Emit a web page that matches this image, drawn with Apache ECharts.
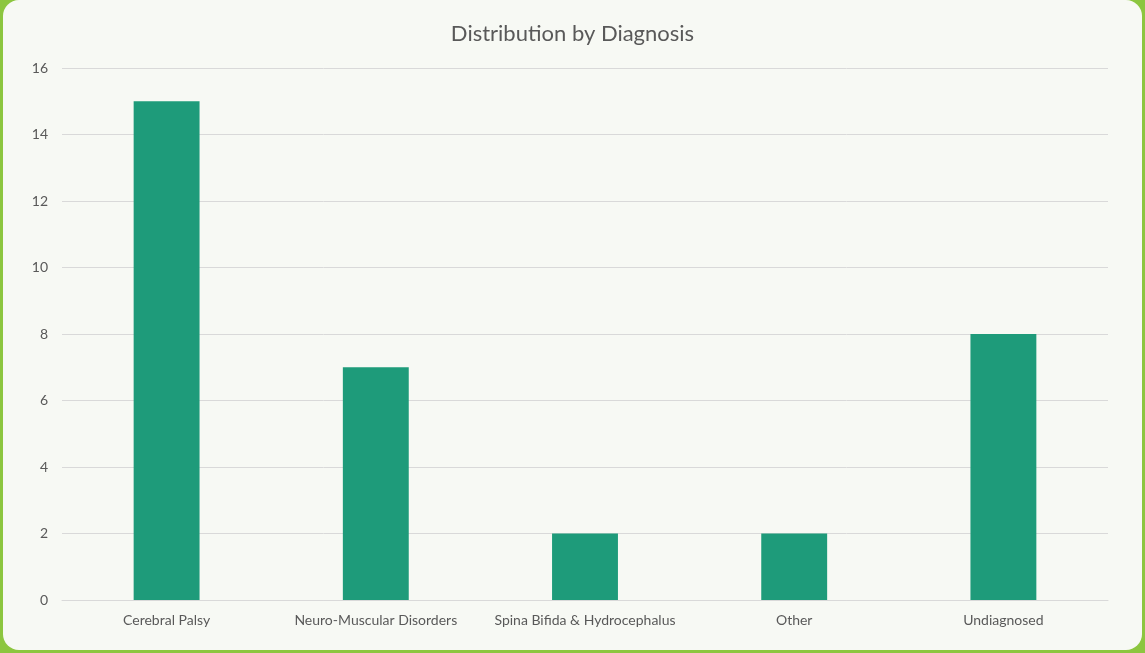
<!DOCTYPE html>
<html><head><meta charset="utf-8">
<script src="https://cdn.jsdelivr.net/npm/echarts@6/dist/echarts.min.js"></script>
<style>
html,body{margin:0;padding:0;width:1145px;height:653px;background:#8cc63f;overflow:hidden;}
#wrap{position:absolute;left:3px;top:0;width:1139px;height:650px;background:#f7f9f4;border-radius:16px;}
#chart{position:absolute;left:-3px;top:0;width:1145px;height:650px;}
</style></head>
<body><div id="wrap"><div id="chart"></div></div>
<script>
const categories = ['Cerebral Palsy','Neuro-Muscular Disorders','Spina Bifida & Hydrocephalus','Other','Undiagnosed'];
const counts = [15, 7, 2, 2, 8];
const yTicks = {min:0, max:16, interval:2};

const chart = echarts.init(document.getElementById('chart'), null, {renderer:'canvas'});
chart.setOption({
  backgroundColor:'transparent',
  title:{text:'Distribution by Diagnosis', left:'center', top:18,
    textStyle:{fontFamily:'Lato', fontSize:22, fontWeight:'normal', color:'#595959'}},
  grid:{left:62, right:37, top:68, bottom:50, containLabel:false},
  xAxis:{type:'category', data:categories,
    axisLine:{lineStyle:{color:'#d9d9d9'}}, axisTick:{show:false},
    axisLabel:{fontFamily:'Lato', fontSize:14, color:'#595959', margin:13, interval:0}},
  yAxis:{type:'value', min:yTicks.min, max:yTicks.max, interval:yTicks.interval,
    axisLine:{show:false}, axisTick:{show:false},
    splitLine:{lineStyle:{color:'#d9d9d9'}},
    axisLabel:{fontFamily:'Lato', fontSize:14, color:'#595959', margin:14}},
  series:[{type:'bar', data:counts, barWidth:'31.5%',
    itemStyle:{color:'#1e9b7a'}, animation:false}]
});
</script></body></html>
